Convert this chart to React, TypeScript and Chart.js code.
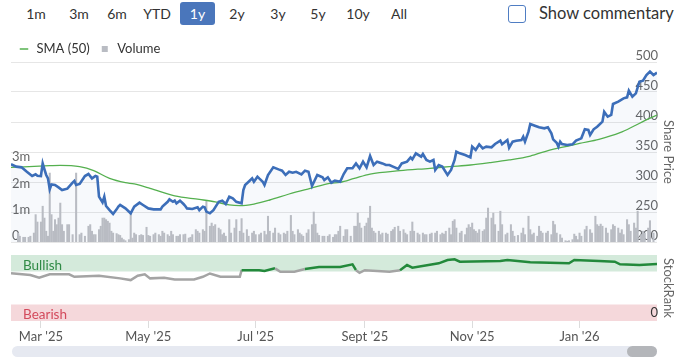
import React, { useEffect, useRef } from 'react';
import { Chart, registerables } from 'chart.js';

Chart.register(...registerables);

const FONT = 'Lato, "Noto Sans", sans-serif';

// ---------- data (x = calendar day offset from 12 Feb 2025) ----------
const rangeButtons = ['1m', '3m', '6m', 'YTD', '1y', '2y', '3y', '5y', '10y', 'All'];
const activeRange = '1y';
const commentaryLabel = 'Show commentary';

const priceDays = [
  0, 3, 6, 9, 12, 14, 15, 17, 18, 19,
  20, 21, 22, 23, 25, 27, 29, 32, 35, 36,
  37, 39, 42, 44, 46, 48, 49, 50, 52, 53,
  54, 56, 58, 60, 61, 62, 65, 68, 70, 73,
  75, 78, 81, 85, 86, 89, 90, 92, 93, 94,
  96, 98, 99, 100, 103, 106, 107, 109, 110, 111,
  113, 115, 116, 118, 120, 122, 124, 126, 128, 131,
  132, 133, 135, 137, 138, 140, 141, 143, 144, 146,
  149, 152, 154, 156, 158, 160, 162, 165, 167, 169,
  171, 174, 177, 178, 180, 182, 184, 187, 189, 191,
  194, 196, 198, 200, 202, 204, 206, 208, 211, 213,
  215, 217, 220, 222, 225, 227, 228, 230, 233, 234,
  236, 238, 240, 241, 243, 245, 248, 250, 252, 253,
  255, 258, 261, 262, 264, 266, 268, 270, 273, 275,
  278, 279, 282, 283, 285, 287, 290, 291, 292, 294,
  295, 298, 300, 303, 305, 307, 308, 310, 311, 312,
  313, 316, 319, 321, 324, 326, 328, 329, 331, 333,
  336, 337, 339, 341, 342, 345, 348, 350, 351, 353,
  355, 357, 359, 361, 363, 365, 367,
];
const priceValues = [
  329.5, 325.6, 324.4, 317, 310, 312.8, 310.5, 310, 331, 321,
  311.7, 306, 287.8, 296, 295, 291, 286.7, 288.9, 298.9, 301.7,
  295, 296.7, 310, 313.3, 306, 310, 308.9, 275.5, 266, 275.5,
  260, 253, 246.7, 254.4, 258.9, 261.7, 256, 247.8, 258.9, 265.6,
  261.7, 256, 254.4, 254.4, 258.9, 267, 271, 267, 268.9, 264.4,
  268.9, 263.3, 260, 256, 255, 257.8, 253, 258.9, 257.8, 250.6,
  247.8, 253, 257.8, 267, 268.9, 263.3, 275.5, 272.8, 267, 264.4,
  286.7, 295, 300.5, 306, 300.5, 308.9, 306, 300.5, 295, 311.7,
  324.4, 321, 318.9, 311.7, 317, 315.5, 317, 312.8, 318.9, 317,
  293.3, 311.7, 307.8, 303.3, 307.8, 298.9, 302.2, 300.5, 313.3, 322.8,
  322.8, 331, 322.8, 333.9, 324.4, 343.3, 328.3, 333.9, 331, 328.3,
  328.3, 325.6, 321.7, 331, 333.9, 341, 337.8, 347.8, 342.2, 346.7,
  336.7, 333.9, 336.7, 320, 328.3, 325.6, 311.7, 320, 336.7, 350.5,
  347.8, 345, 341, 358.9, 353.3, 362.8, 356, 358.9, 357.8, 363.3,
  368.9, 362.8, 370, 357.2, 367.2, 368.9, 370, 375.5, 367.2, 383.9,
  396.7, 393.3, 391.1, 389.4, 391.1, 381.1, 371.1, 365.5, 358.9, 367.2,
  363.3, 361.7, 362.8, 368.9, 372.8, 387.8, 386.7, 378.3, 387.8, 392.2,
  400.5, 417.2, 408.9, 411.7, 430, 433.9, 439.4, 441.1, 452.2, 442.2,
  447.8, 467.2, 468.9, 478.3, 483.9, 478.3, 482.2,
];

const smaDays = [
  0, 22, 28, 39, 47, 56, 65, 70, 79, 93,
  107, 116, 124, 130, 138, 147, 158, 170, 181, 187,
  195, 204, 221, 238, 249, 261, 272, 283, 295, 306,
  315, 323, 334, 346, 354, 360, 367,
];
const smaValues = [
  324.4, 327.2, 327.8, 325.6, 318.9, 306, 298.9, 296.7, 289.4, 276.7,
  271, 267, 261.7, 260.5, 263.3, 270, 280, 289.4, 297.8, 299.4,
  306, 313.3, 318.9, 322.8, 325.6, 328.3, 332.2, 336.7, 343.3, 353.3,
  358.9, 364.4, 371.1, 382.2, 393.3, 402.2, 411.7,
];

// volume in millions of shares
const volumeDays = [
  4, 5, 7, 8, 10, 11, 13, 14, 15, 17,
  18, 19, 20, 21, 22, 23, 24, 25, 26, 27,
  28, 29, 30, 32, 33, 35, 37, 39, 40, 42,
  44, 45, 46, 47, 48, 50, 51, 52, 53, 54,
  55, 56, 57, 58, 60, 61, 62, 63, 64, 65,
  67, 68, 69, 70, 71, 73, 74, 75, 77, 78,
  79, 81, 82, 84, 85, 86, 87, 89, 90, 91,
  92, 94, 95, 96, 98, 99, 101, 102, 103, 105,
  106, 107, 109, 110, 111, 113, 114, 115, 116, 118,
  119, 120, 121, 122, 124, 125, 127, 128, 130, 131,
  132, 134, 135, 137, 138, 139, 141, 142, 144, 145,
  146, 147, 149, 150, 152, 153, 155, 156, 157, 159,
  160, 161, 163, 164, 165, 166, 168, 169, 171, 172,
  173, 174, 175, 177, 178, 180, 181, 183, 184, 185,
  186, 187, 189, 190, 191, 193, 195, 196, 197, 198,
  199, 201, 202, 203, 204, 205, 206, 207, 209, 210,
  211, 213, 214, 216, 217, 218, 220, 221, 223, 224,
  225, 227, 228, 229, 231, 232, 234, 235, 236, 238,
  239, 241, 242, 244, 245, 246, 247, 249, 250, 251,
  252, 253, 255, 256, 258, 259, 260, 261, 262, 263,
  264, 265, 266, 268, 269, 270, 271, 273, 274, 275,
  277, 278, 279, 281, 282, 284, 285, 286, 288, 290,
  291, 292, 294, 295, 296, 297, 299, 300, 301, 302,
  304, 305, 307, 308, 309, 310, 312, 313, 315, 316,
  317, 319, 320, 321, 322, 323, 324, 326, 327, 329,
  330, 332, 333, 334, 335, 336, 338, 339, 341, 342,
  343, 345, 346, 347, 348, 350, 351, 352, 354, 355,
  356, 358, 359, 360, 362, 363, 365,
];
const volumeValues = [
  0.34, 0.22, 0.18, 0.18, 0.18, 0.22, 0.34, 1.04, 0.76, 0.76,
  1.36, 0.91, 0.41, 0.22, 2.62, 1.04, 0.41, 0.85, 0.66, 0.91,
  1.48, 0.66, 0.41, 0.66, 0.66, 0.28, 2.62, 0.28, 0.34, 0.22,
  0.6, 0.66, 0.41, 0.28, 0.28, 0.47, 0.6, 0.91, 0.91, 0.85,
  0.79, 0.72, 0.41, 0.34, 0.32, 0.28, 0.25, 0.15, 0.09, 0.05,
  0.09, 1.1, 0.15, 0.34, 0.28, 0.25, 0.28, 0.25, 0.56, 0.25,
  0.22, 0.28, 0.34, 0.28, 0.22, 0.41, 0.34, 0.28, 0.22, 0.41,
  0.28, 0.22, 0.22, 0.28, 0.28, 0.3, 0.15, 0.18, 0.28, 0.47,
  0.41, 0.34, 0.47, 0.41, 1.57, 0.6, 0.72, 0.6, 0.66, 0.53,
  0.47, 0.28, 0.34, 0.22, 0.85, 0.34, 0.53, 0.85, 0.41, 0.89,
  0.34, 0.47, 0.22, 0.34, 0.41, 0.28, 0.28, 0.34, 0.41, 0.28,
  0.98, 0.41, 0.34, 0.53, 0.34, 0.28, 0.34, 0.3, 0.41, 1.01,
  0.41, 0.28, 0.47, 0.34, 0.28, 0.22, 0.34, 0.47, 0.66, 1.14,
  0.68, 0.34, 0.25, 0.22, 0.22, 0.22, 0.28, 0.18, 0.28, 0.28,
  0.41, 0.6, 0.22, 0.47, 0.47, 0.22, 0.6, 0.6, 1.1, 0.72,
  0.53, 0.6, 0.72, 0.91, 1.36, 0.53, 0.41, 0.34, 0.41, 0.28,
  0.34, 0.34, 0.3, 0.41, 0.47, 0.56, 0.6, 0.41, 0.47, 0.34,
  0.28, 0.41, 0.76, 0.41, 0.34, 0.28, 0.34, 0.28, 0.28, 0.3,
  0.34, 0.34, 0.41, 0.28, 0.34, 0.3, 0.41, 0.53, 0.28, 0.79,
  0.85, 0.53, 0.34, 0.41, 0.28, 0.53, 0.66, 0.56, 0.72, 0.47,
  0.41, 0.34, 0.47, 0.41, 0.47, 0.91, 1.29, 0.91, 1.1, 0.66,
  0.41, 1.17, 0.66, 0.28, 0.34, 0.66, 0.41, 0.22, 0.25, 0.34,
  0.53, 0.28, 0.98, 0.47, 0.28, 0.34, 0.22, 0.6, 0.41, 0.34,
  0.34, 0.41, 0.28, 0.79, 0.66, 0.34, 0.28, 0.15, 0.05, 0.03,
  0.05, 0.09, 0.3, 0.22, 0.09, 0.34, 0.22, 0.47, 0.6, 0.47,
  0.34, 0.98, 0.66, 0.6, 0.68, 0.6, 0.53, 0.34, 0.47, 0.66,
  0.6, 0.53, 0.34, 0.47, 0.28, 0.85, 0.66, 0.41, 0.72, 0.53,
  1.17, 0.28, 0.41, 0.34, 0.53, 0.81, 0.34,
];

const rankDays = [
  0, 11, 16, 22, 33, 36, 50, 62, 68, 72,
  76, 79, 87, 93, 104, 109, 113, 119, 130, 131,
  141, 144, 150, 153, 161, 167, 175, 187, 194, 196,
  198, 201, 215, 221, 225, 228, 243, 248, 252, 255,
  278, 282, 295, 317, 320, 334, 343, 346, 357, 367,
];
const rankValues = [
  72.3, 69.7, 65.6, 70.8, 70.8, 67, 68.7, 64.6, 62, 68.6,
  70.8, 64.6, 65.6, 63, 63, 67, 72, 67, 67, 77,
  77, 75.7, 79.8, 74.6, 74.6, 78.8, 81.8, 81.8, 85.9, 77,
  73, 77, 74.5, 76.8, 84.8, 80.8, 87.4, 92.4, 93.4, 89.9,
  90.9, 92.4, 88.9, 87.4, 92.4, 90.9, 89.9, 85.9, 84.8, 86.4,
];

const xRange = [0, 367];
const monthTickDays = [17, 78, 139, 201, 262, 323];
const monthTickLabels = ["Mar '25", "May '25", "Jul '25", "Sept '25", "Nov '25", "Jan '26"];

const priceRange = [200, 500];
const priceStep = 50;
const volumeRange = [0, 6.84];
const volumeTickValues = [0, 1, 2, 3];
const volumeTickLabels = ['0', '1m', '2m', '3m'];
const rankRange = [0, 100];
const rankTickValues = [0];
const bandLabels = ['Bullish', 'Bearish'];
const bandFrom = [75, 0];
const bandTo = [100, 25];

// ---------- styling / layout ----------
const BUTTON_CENTERS = [36, 79, 117, 157, 197.5, 237, 278, 318, 358, 399];
const BAND_FILL = ['#d4eadb', '#f5d8db'];
const BAND_TEXT = ['#2f8a45', '#d34a5c'];
const GREEN_RANK = '#23893b';
const GREY_RANK = '#a4a4a4';

const bandPlugin = {
  id: 'rankBands',
  beforeDraw(chart: any) {
    const { ctx, chartArea } = chart;
    const y = chart.scales.yRank;
    ctx.save();
    bandLabels.forEach((label, i) => {
      const top = y.getPixelForValue(bandTo[i]);
      const bottom = y.getPixelForValue(bandFrom[i]);
      ctx.fillStyle = BAND_FILL[i];
      ctx.fillRect(chartArea.left, top, chartArea.right - chartArea.left, bottom - top);
      ctx.fillStyle = BAND_TEXT[i];
      ctx.font = `13.5px ${FONT}`;
      ctx.textBaseline = 'middle';
      ctx.textAlign = 'left';
      ctx.fillText(label, chartArea.left + 12, top + 10.5);
    });
    ctx.restore();
  },
};

export default function App() {
  const mainRef = useRef<HTMLCanvasElement | null>(null);
  const rankRef = useRef<HTMLCanvasElement | null>(null);

  useEffect(() => {
    Chart.defaults.font.family = FONT;
    const axisFont = { family: FONT, size: 13 };

    const main = new Chart(mainRef.current as HTMLCanvasElement, {
      type: 'line',
      data: {
        datasets: [
          {
            type: 'line',
            label: 'Price',
            data: priceDays.map((d, i) => ({ x: d, y: priceValues[i] })),
            yAxisID: 'yPrice',
            borderColor: '#3c6eb9',
            borderWidth: 2.6,
            pointRadius: 0,
            tension: 0,
            fill: 'start',
            backgroundColor: 'rgba(60,110,185,0.045)',
            order: 1,
          },
          {
            type: 'line',
            label: 'SMA (50)',
            data: smaDays.map((d, i) => ({ x: d, y: smaValues[i] })),
            yAxisID: 'yPrice',
            borderColor: '#55b04f',
            borderWidth: 1.3,
            pointRadius: 0,
            pointStyle: 'line',
            cubicInterpolationMode: 'monotone',
            fill: false,
            order: 2,
          },
          {
            type: 'bar',
            label: 'Volume',
            data: volumeDays.map((d, i) => ({ x: d, y: volumeValues[i] })),
            yAxisID: 'yVol',
            backgroundColor: '#b9bcc3',
            borderWidth: 0,
            barThickness: 1.4,
            pointStyle: 'rect',
            order: 3,
          },
        ] as any,
      },
      options: {
        responsive: false,
        animation: false,
        layout: { padding: { left: 9, right: 0, top: 3.5, bottom: 10 } },
        plugins: {
          legend: {
            display: true,
            position: 'top',
            align: 'start',
            maxHeight: 28.5,
            labels: {
              usePointStyle: true,
              boxWidth: 12,
              boxHeight: 6,
              padding: 9,
              color: '#333',
              font: { family: FONT, size: 13 },
              filter: (item: any) => item.text !== 'Price',
            },
          },
          tooltip: { enabled: false },
          filler: { drawTime: 'beforeDatasetsDraw' },
        } as any,
        scales: {
          x: { type: 'linear', min: xRange[0], max: xRange[1], offset: false, display: false },
          yPrice: {
            type: 'linear',
            position: 'right',
            min: priceRange[0],
            max: priceRange[1],
            ticks: {
              stepSize: priceStep,
              mirror: true,
              padding: 1,
              labelOffset: -6,
              color: '#666',
              font: axisFont,
            },
            grid: { color: '#e6e6e6', drawTicks: false },
            border: { display: false },
            title: {
              display: true,
              text: 'Share Price',
              color: '#666',
              font: axisFont,
              padding: { top: 5, bottom: 0 },
            },
            afterFit: (s: any) => {
              s.width = 24;
            },
          },
          yVol: {
            type: 'linear',
            position: 'left',
            min: volumeRange[0],
            max: volumeRange[1],
            afterBuildTicks: (s: any) => {
              s.ticks = volumeTickValues.map((v) => ({ value: v }));
            },
            ticks: {
              mirror: true,
              padding: 1,
              labelOffset: -6,
              color: '#666',
              font: axisFont,
              callback: (v: any) => volumeTickLabels[volumeTickValues.indexOf(Number(v))],
            },
            grid: { display: false },
            border: { display: false },
            afterFit: (s: any) => {
              s.width = 2;
            },
          },
        } as any,
      },
    });

    const rank = new Chart(rankRef.current as HTMLCanvasElement, {
      type: 'line',
      data: {
        datasets: [
          {
            label: 'StockRank',
            data: rankDays.map((d, i) => ({ x: d, y: rankValues[i] })),
            yAxisID: 'yRank',
            borderColor: GREY_RANK,
            borderWidth: 2.5,
            pointRadius: 0,
            tension: 0,
            segment: {
              borderColor: (ctx: any) =>
                ctx.p0.parsed.y >= bandFrom[0] && ctx.p1.parsed.y >= bandFrom[0] ? GREEN_RANK : GREY_RANK,
            },
          },
        ] as any,
      },
      options: {
        responsive: false,
        animation: false,
        layout: { padding: { left: 11, right: 0, top: 10, bottom: 0 } },
        plugins: { legend: { display: false }, tooltip: { enabled: false } },
        scales: {
          x: {
            type: 'linear',
            min: xRange[0],
            max: xRange[1],
            offset: false,
            afterBuildTicks: (s: any) => {
              s.ticks = monthTickDays.map((v) => ({ value: v }));
            },
            ticks: {
              autoSkip: false,
              maxRotation: 0,
              padding: 1,
              color: '#555',
              font: axisFont,
              callback: (v: any) => monthTickLabels[monthTickDays.indexOf(Number(v))],
            },
            grid: { drawOnChartArea: false, drawTicks: true, tickLength: 7, tickColor: '#dcdcdc' },
            border: { display: false },
            afterFit: (s: any) => {
              s.height = 24;
            },
          },
          yRank: {
            type: 'linear',
            position: 'right',
            min: rankRange[0],
            max: rankRange[1],
            afterBuildTicks: (s: any) => {
              s.ticks = rankTickValues.map((v) => ({ value: v }));
            },
            ticks: { mirror: true, padding: 1, labelOffset: -8, color: '#333', font: axisFont },
            grid: { display: false },
            border: { display: false },
            title: {
              display: true,
              text: 'StockRank',
              color: '#666',
              font: axisFont,
              padding: { top: 5, bottom: 0 },
            },
            afterFit: (s: any) => {
              s.width = 24;
            },
          },
        } as any,
      },
      plugins: [bandPlugin],
    });

    return () => {
      main.destroy();
      rank.destroy();
    };
  }, []);

  return (
    <div
      style={{
        position: 'absolute',
        left: 0,
        top: 0,
        width: 681,
        height: 364,
        background: '#fff',
        fontFamily: FONT,
        overflow: 'hidden',
      }}
    >
      {rangeButtons.map((b, i) => {
        const active = b === activeRange;
        return (
          <div
            key={b}
            style={{
              position: 'absolute',
              left: BUTTON_CENTERS[i] - 17.5,
              top: 2,
              width: 35,
              height: 23,
              lineHeight: '23px',
              textAlign: 'center',
              fontSize: 14,
              color: active ? '#fff' : '#333',
              background: active ? '#4a76bb' : 'transparent',
              borderRadius: 3,
            }}
          >
            {b}
          </div>
        );
      })}
      <div
        style={{
          position: 'absolute',
          left: 508,
          top: 4.5,
          width: 18,
          height: 18,
          boxSizing: 'border-box',
          border: '1.5px solid #4f7dc3',
          borderRadius: 3,
          background: '#fff',
        }}
      />
      <div
        style={{
          position: 'absolute',
          left: 539,
          top: 0,
          height: 26,
          lineHeight: '26px',
          fontSize: 16.5,
          color: '#333',
          whiteSpace: 'nowrap',
        }}
      >
        {commentaryLabel}
      </div>
      <canvas
        ref={mainRef}
        width={681}
        height={222}
        style={{ position: 'absolute', left: 0, top: 30, width: 681, height: 222, display: 'block' }}
      />
      <canvas
        ref={rankRef}
        width={681}
        height={100}
        style={{ position: 'absolute', left: 0, top: 245, width: 681, height: 100, display: 'block' }}
      />
      <div
        style={{
          position: 'absolute',
          left: 12,
          top: 346,
          width: 645,
          height: 11,
          borderRadius: 6,
          background: '#e6e9f1',
        }}
      />
      <div
        style={{
          position: 'absolute',
          left: 627,
          top: 346,
          width: 30,
          height: 11,
          borderRadius: 6,
          background: '#b4b6ba',
        }}
      />
    </div>
  );
}
